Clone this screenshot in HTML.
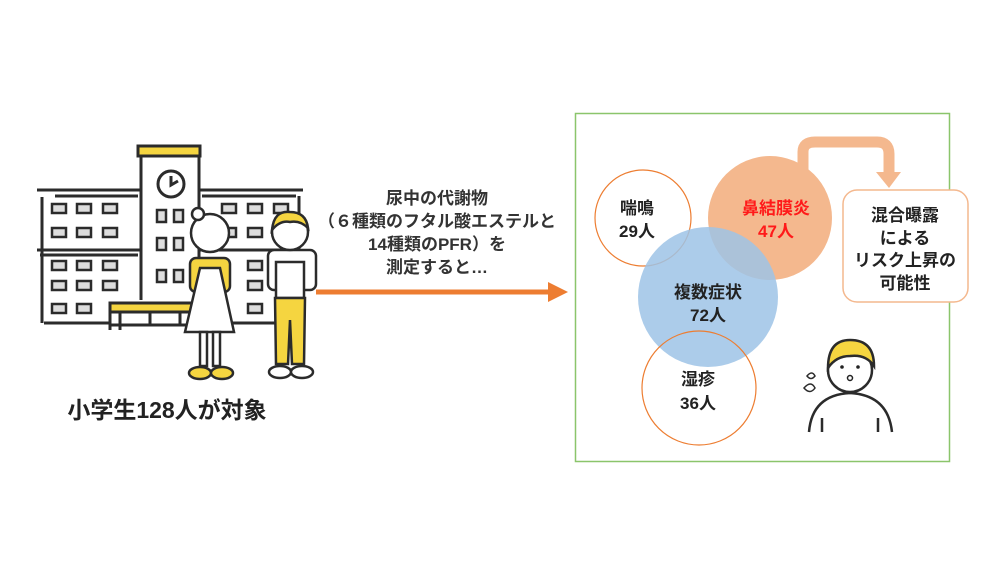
<!DOCTYPE html>
<html><head><meta charset="utf-8"><style>
html,body{margin:0;padding:0;background:#fff;}
svg{display:block}
text{font-family:"Liberation Sans","Noto Sans CJK JP",sans-serif;}
</style></head><body>
<svg width="1000" height="563" viewBox="0 0 1000 563" xmlns="http://www.w3.org/2000/svg">
<!-- school -->
<g stroke="#2b2b2b" stroke-width="3" fill="none">
  <rect x="138" y="146" width="62" height="10" fill="#f5d540"/>
  <path d="M141 156 V 300 M199 156 V 300"/>
  <circle cx="171" cy="184" r="13" fill="#fff"/>
  <path d="M171 176 V185 L178 181"/>
  <path d="M37 190 H141 M199 190 H303 M42 197 V323 M55 196 H138 M202 196 H296 M299 196 V323"/>
  <path d="M37 250 H140 M40 255 H138 M200 250 H299"/>
  <path d="M44 323 H110 M200 323 H299"/>
  <rect x="110" y="303" width="95" height="9" fill="#f5d540"/>
  <path d="M110 312 V330 M120 312 V330 M150 312 V325 M180 312 V325 M110 325 H200"/>
</g>
<g fill="#ddd" stroke="#2b2b2b" stroke-width="2.5">
  <rect x="52" y="204" width="14" height="9"/><rect x="77" y="204" width="14" height="9"/><rect x="103" y="204" width="14" height="9"/>
  <rect x="52" y="228" width="14" height="9"/><rect x="77" y="228" width="14" height="9"/><rect x="103" y="228" width="14" height="9"/>
  <rect x="52" y="261" width="14" height="9"/><rect x="77" y="261" width="14" height="9"/><rect x="103" y="261" width="14" height="9"/>
  <rect x="52" y="281" width="14" height="9"/><rect x="77" y="281" width="14" height="9"/><rect x="103" y="281" width="14" height="9"/>
  <rect x="52" y="304" width="14" height="9"/><rect x="77" y="304" width="14" height="9"/>
  <rect x="157" y="210" width="9" height="12"/><rect x="174" y="210" width="9" height="12"/>
  <rect x="157" y="238" width="9" height="12"/><rect x="174" y="238" width="9" height="12"/>
  <rect x="157" y="270" width="9" height="12"/><rect x="174" y="270" width="9" height="12"/>
  <rect x="222" y="204" width="14" height="9"/><rect x="248" y="204" width="14" height="9"/><rect x="274" y="204" width="14" height="9"/>
  <rect x="222" y="228" width="14" height="9"/><rect x="248" y="228" width="14" height="9"/>
  <rect x="248" y="261" width="14" height="9"/><rect x="248" y="281" width="14" height="9"/><rect x="248" y="304" width="14" height="9"/>
</g>
<!-- girl -->
<g stroke="#2b2b2b" stroke-width="2.5">
  <rect x="190" y="258" width="40" height="34" rx="6" fill="#f5d540"/>
  <path d="M200 268 L185 332 H234 L220 268 Z" fill="#fff"/>
  <circle cx="210" cy="233" r="19" fill="#fff"/>
  <circle cx="198" cy="214" r="6" fill="#fff"/>
  <rect x="200" y="332" width="7" height="34" fill="#fff"/><rect x="213" y="332" width="7" height="34" fill="#fff"/>
  <ellipse cx="200" cy="373" rx="11" ry="6" fill="#f5d540"/><ellipse cx="222" cy="373" rx="11" ry="6" fill="#f5d540"/>
</g>
<!-- boy -->
<g stroke="#2b2b2b" stroke-width="2.5">
  <rect x="268" y="250" width="48" height="40" rx="6" fill="#fff"/>
  <rect x="276" y="262" width="28" height="36" fill="#fff"/>
  <path d="M275 298 H305 L304 364 H292 L290 320 L288 364 H276 Z" fill="#f5d540"/>
  <circle cx="290" cy="232" r="18" fill="#fff"/>
  <path d="M272 230 Q274 210 290 212 Q306 212 308 228 Q300 220 290 222 Q280 220 272 230 Z" fill="#f5d540"/>
  <ellipse cx="280" cy="372" rx="11" ry="6" fill="#fff"/><ellipse cx="302" cy="372" rx="11" ry="6" fill="#fff"/>
</g>
<text x="167" y="418" font-size="23" font-weight="bold" fill="#222" text-anchor="middle">小学生128人が対象</text>
<!-- middle text -->
<g font-size="17" font-weight="bold" fill="#333" text-anchor="middle">
  <text x="437" y="204">尿中の代謝物</text>
  <text x="437" y="227">（６種類のフタル酸エステルと</text>
  <text x="437" y="250">14種類のPFR）を</text>
  <text x="437" y="273">測定すると…</text>
</g>
<path d="M316 292 H550" stroke="#ed7d31" stroke-width="5"/>
<path d="M548 282 L568 292 L548 302 Z" fill="#ed7d31"/>
<!-- right panel -->
<rect x="575.5" y="113.5" width="374" height="348" fill="none" stroke="#8bc56b" stroke-width="1.5"/>
<path d="M803 178 V152 Q803 142 815 142 H877 Q889 142 889 154 V172" fill="none" stroke="#f4b88e" stroke-width="11"/>
<path d="M876 172 H901 L889 188 Z" fill="#f4b88e"/>
<circle cx="643" cy="218" r="48" fill="#fff" stroke="#ed7d31" stroke-width="1.2"/>
<circle cx="770" cy="218" r="62" fill="#f4b88e"/>
<circle cx="708" cy="297" r="70" fill="#9dc3e6" fill-opacity="0.85"/>
<circle cx="699" cy="388" r="57" fill="none" stroke="#ed7d31" stroke-width="1.2"/>
<g font-size="17" font-weight="bold" text-anchor="middle">
  <text x="637" y="214" fill="#222">喘鳴</text>
  <text x="637" y="237" fill="#222">29人</text>
  <text x="776" y="214" fill="#ff1a1a">鼻結膜炎</text>
  <text x="776" y="237" fill="#ff1a1a">47人</text>
  <text x="708" y="298" fill="#222">複数症状</text>
  <text x="708" y="321" fill="#222">72人</text>
  <text x="698" y="385" fill="#222">湿疹</text>
  <text x="698" y="409" fill="#222">36人</text>
</g>
<rect x="843" y="190" width="125" height="112" rx="14" fill="#fff" stroke="#f4b88e" stroke-width="1.5"/>
<g font-size="17" font-weight="bold" fill="#222" text-anchor="middle">
  <text x="905" y="221">混合曝露</text>
  <text x="905" y="244">による</text>
  <text x="905" y="266">リスク上昇の</text>
  <text x="905" y="289">可能性</text>
</g>
<!-- worried person -->
<g stroke="#2b2b2b" stroke-width="2.5" fill="#fff">
  <path d="M809 432 Q812 395 850 393 Q888 395 892 432"/>
  <path d="M822 432 V418 M878 432 V418" fill="none"/>
  <circle cx="850" cy="370" r="22"/>
  <path d="M828 368 Q828 340 850 340 Q874 340 874 366 Q866 354 850 356 Q836 356 828 368 Z" fill="#f5d540"/>
  <path d="M807 376 q5 -6 8 0 q-4 5 -8 0z M804 388 q7 -8 11 0 q-5 7 -11 0z" stroke-width="1.5"/>
</g>
<circle cx="842" cy="367" r="1.8" fill="#222"/><circle cx="858" cy="367" r="1.8" fill="#222"/>
<circle cx="850" cy="378" r="2.5" fill="none" stroke="#222" stroke-width="1.5"/>
</svg>
</body></html>
